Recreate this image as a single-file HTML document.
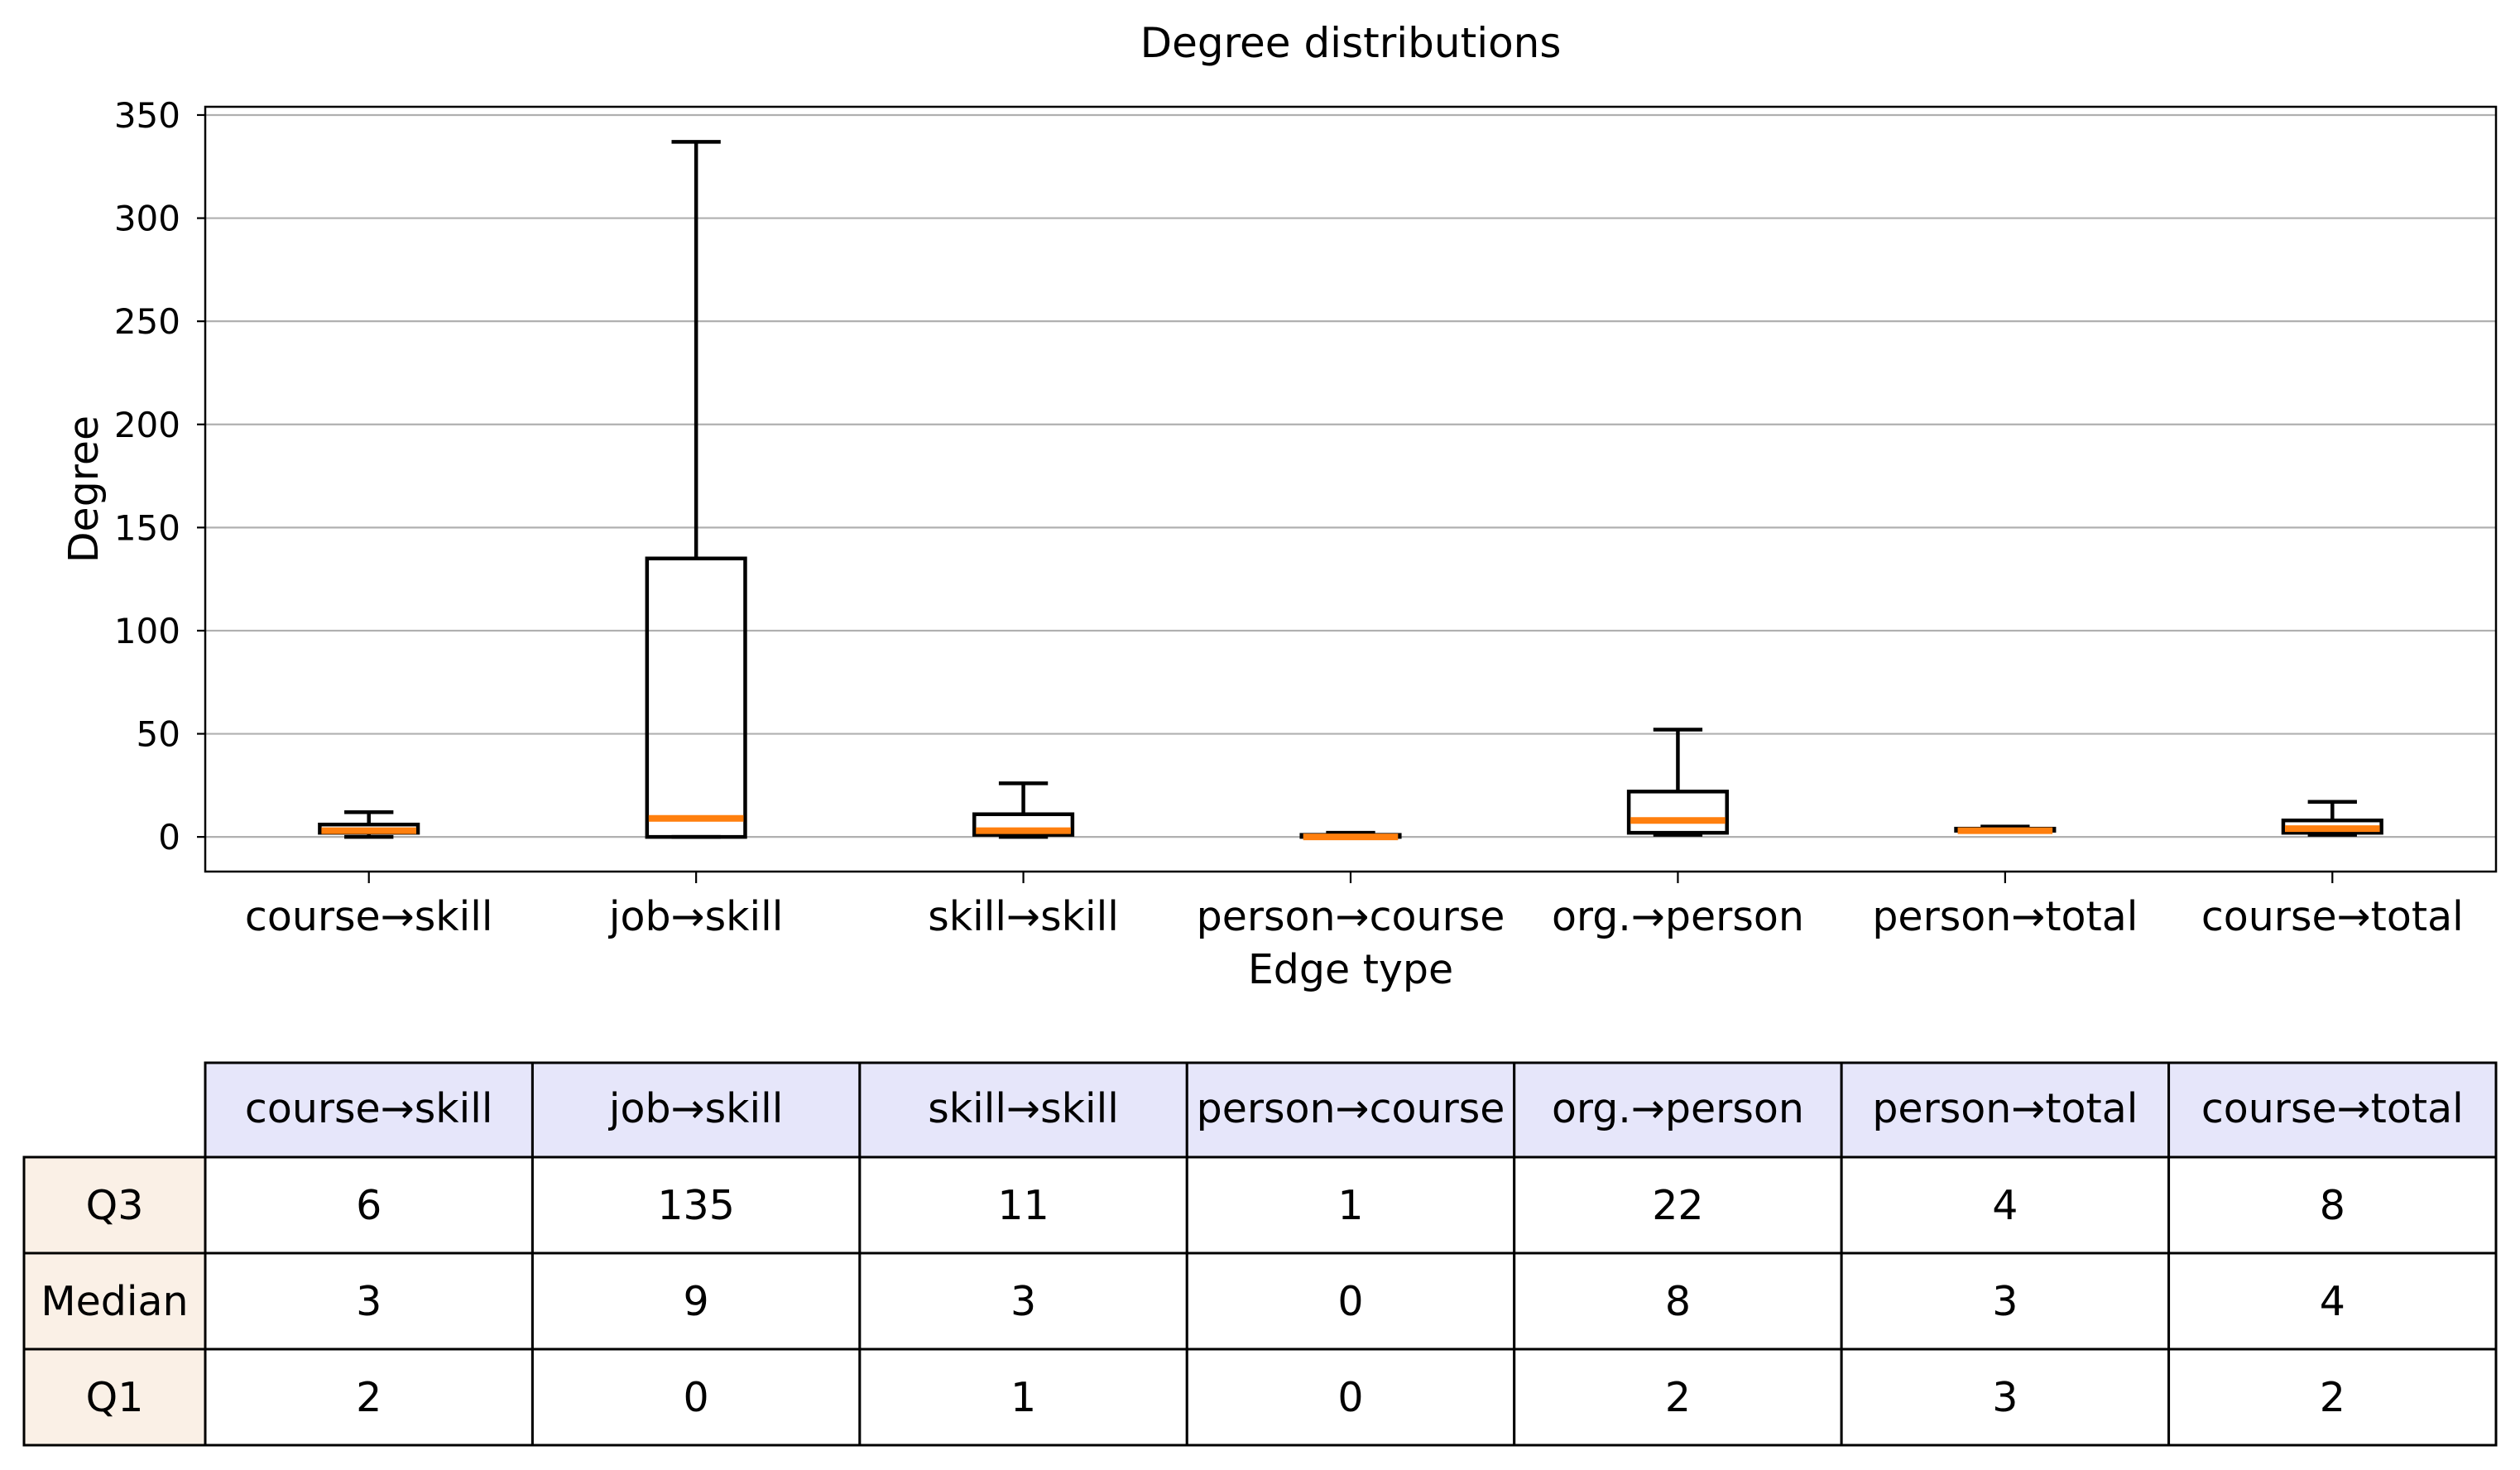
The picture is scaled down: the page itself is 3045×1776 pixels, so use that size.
<!DOCTYPE html>
<html><head><meta charset="utf-8"><style>
html,body{margin:0;padding:0;background:#fff;}
svg{display:block;font-family:"DejaVu Sans","Liberation Sans",sans-serif;}
</style></head><body>
<svg id="chart" width="3045" height="1776" viewBox="0 0 3045 1776" xmlns="http://www.w3.org/2000/svg">
<rect width="3045" height="1776" fill="#fff"/>
<text x="1632" y="69" font-size="50" text-anchor="middle">Degree distributions</text>
<g id="grid"></g><g id="boxes"></g><g id="axes"></g><g id="table"></g>
</svg>
<script>
const categories = ["course→skill","job→skill","skill→skill","person→course","org.→person","person→total","course→total"];
const q1Values = [2,0,1,0,2,3,2];
const medianValues = [3,9,3,0,8,3,4];
const q3Values = [6,135,11,1,22,4,8];
const whiskerLow = [0,0,0,0,1,3,1];
const whiskerHigh = [12,337,26,2,52,5,17];
const yTicks = [0,50,100,150,200,250,300,350];
const rowLabels = ["Q3","Median","Q1"];

const NS = "http://www.w3.org/2000/svg";
const L = 248, R = 3016, T = 129, B = 1053;
const yMin = -16.8, yMax = 354;
const step = (R - L) / categories.length;
function xScale(i){ return L + step * (i + 0.5); }
function yScale(v){ return B - (v - yMin) / (yMax - yMin) * (B - T); }
function mk(tag, attrs, parent){
  const e = document.createElementNS(NS, tag);
  for (const k in attrs) e.setAttribute(k, attrs[k]);
  parent.appendChild(e); return e;
}
const grid = document.getElementById('grid');
const boxes = document.getElementById('boxes');
const axes = document.getElementById('axes');
const table = document.getElementById('table');

yTicks.forEach(t => {
  const y = yScale(t);
  const g = mk('line', {x1:L, x2:R, y1:y, y2:y, stroke:'#b0b0b0', 'stroke-width':2.2}, grid);
  
  
  const tk = mk('line', {x1:L-10, x2:L, y1:y, y2:y, stroke:'#000', 'stroke-width':2.2}, axes);
  
  
  const lb = mk('text', {x:L-30, y:y+15, 'font-size':42, 'text-anchor':'end'}, axes);
  lb.textContent = t;
  
  
});

const bw = step * 0.3, cw = bw / 2;
categories.forEach((c, i) => {
  const x = xScale(i);
  const g = mk('g', {}, boxes);
  
  
  const s = {stroke:'#000', 'stroke-width':4.5, fill:'none'};
  mk('line', Object.assign({x1:x, x2:x, y1:yScale(q3Values[i]), y2:yScale(whiskerHigh[i])}, s), g);
  mk('line', Object.assign({x1:x, x2:x, y1:yScale(q1Values[i]), y2:yScale(whiskerLow[i])}, s), g);
  mk('line', Object.assign({x1:x-cw/2, x2:x+cw/2, y1:yScale(whiskerHigh[i]), y2:yScale(whiskerHigh[i])}, s), g);
  mk('line', Object.assign({x1:x-cw/2, x2:x+cw/2, y1:yScale(whiskerLow[i]), y2:yScale(whiskerLow[i])}, s), g);
  const yt = yScale(q3Values[i]), yb = yScale(q1Values[i]);
  mk('rect', Object.assign({x:x-bw/2, y:yt, width:bw, height:Math.max(yb-yt,0.1)}, s), g);
  mk('line', {x1:x-bw/2+2, x2:x+bw/2-2, y1:yScale(medianValues[i]), y2:yScale(medianValues[i]), stroke:'#ff7f0e', 'stroke-width':8}, g);
  const tk = mk('line', {x1:x, x2:x, y1:B, y2:B+14, stroke:'#000', 'stroke-width':2.2}, axes);
  
  
  const lb = mk('text', {x:x, y:1124, 'font-size':49, 'text-anchor':'middle'}, axes);
  lb.textContent = c;
  
  
});
const frame = mk('rect', {x:L, y:T, width:R-L, height:B-T, fill:'none', stroke:'#000', 'stroke-width':2.5}, axes);


const xl = mk('text', {x:(L+R)/2, y:1188, 'font-size':49, 'text-anchor':'middle'}, axes);
xl.textContent = 'Edge type';


const yl = mk('text', {x:0, y:0, 'font-size':49, 'text-anchor':'middle', transform:'translate(118,591) rotate(-90)'}, axes);
yl.textContent = 'Degree';



// table
const tTop = 1284, hBot = 1398, rowH = 116, tLeft = 29;
const rowData = [q3Values, medianValues, q1Values];
categories.forEach((c, i) => {
  const x0 = L + step * i;
  const r = mk('rect', {x:x0, y:tTop, width:step, height:hBot-tTop, fill:'#e6e6fa', stroke:'#000', 'stroke-width':3}, table);
  
  
  const t = mk('text', {x:x0+step/2, y:(tTop+hBot)/2+15, 'font-size':49, 'text-anchor':'middle'}, table);
  t.textContent = c;
  
  
});
rowLabels.forEach((lab, j) => {
  const y0 = hBot + rowH * j;
  const r = mk('rect', {x:tLeft, y:y0, width:L-tLeft, height:rowH, fill:'#faf0e6', stroke:'#000', 'stroke-width':3}, table);
  
  
  const t = mk('text', {x:(tLeft+L)/2, y:y0+rowH/2+17, 'font-size':49, 'text-anchor':'middle'}, table);
  t.textContent = lab;
  
  
  rowData[j].forEach((v, i) => {
    const x0 = L + step * i;
    const c = mk('rect', {x:x0, y:y0, width:step, height:rowH, fill:'#fff', stroke:'#000', 'stroke-width':3}, table);
    
    
    const tv = mk('text', {x:x0+step/2, y:y0+rowH/2+17, 'font-size':49, 'text-anchor':'middle'}, table);
    tv.textContent = v;
    
    
  });
});
</script>
</body></html>
